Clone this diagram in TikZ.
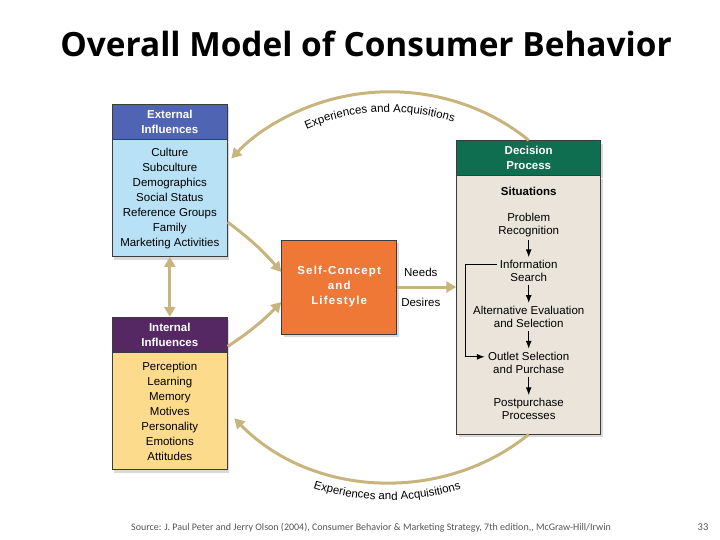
\documentclass[tikz,border=0pt]{standalone}
\usepackage{fontspec}
\setmainfont{Liberation Sans}
\newfontfamily\titlefont{Open Sans}
\newfontfamily\notefont{Carlito}
\newfontfamily\spacedfont[LetterSpace=10]{Liberation Sans}
\usetikzlibrary{arrows.meta, decorations.text, shadows}
\definecolor{extblue}{RGB}{80,100,180}
\definecolor{extlight}{RGB}{185,225,245}
\definecolor{intpurple}{RGB}{85,40,100}
\definecolor{intlight}{RGB}{252,220,140}
\definecolor{selforange}{RGB}{240,120,55}
\definecolor{decgreen}{RGB}{15,110,80}
\definecolor{decbeige}{RGB}{234,228,218}
\definecolor{flowtan}{RGB}{200,180,125}
\definecolor{edgegray}{RGB}{60,60,60}
\definecolor{notegray}{RGB}{85,85,85}
\newcommand{\arcfont}{\fontsize{11.5}{13}\selectfont}

\begin{document}
\begin{tikzpicture}[x=1pt, y=-1pt,
    box/.style={draw=edgegray, line width=0.8pt, inner sep=0pt, align=center, font=\fontsize{11.5}{15}\selectfont,
      drop shadow={shadow xshift=2pt, shadow yshift=-3pt, opacity=0.3}},
    head/.style={box, text=white, font=\fontsize{11.5}{15}\selectfont\bfseries},
    flow/.style={draw=flowtan, line width=3pt, -{Triangle[length=10pt, width=11pt]}},
    stepnode/.style={inner sep=3pt, align=center, font=\fontsize{11.5}{13}\selectfont},
    steparrow/.style={draw=black, line width=1.3pt, -{Latex[length=8pt, width=6pt]}},
    lab/.style={inner sep=0pt, font=\fontsize{11.5}{13}\selectfont},
    arclabel/.style={decorate, decoration={text along path, text={|\arcfont|Experiences and Acquisitions}, text align=center}}]
    \useasboundingbox (0,0) rectangle (720,540);

    \node[anchor=base, font=\titlefont\fontsize{33.4}{38}\selectfont\bfseries] (title) at (366,57) {Overall Model of Consumer Behavior};

    \node[head, fill=extblue, minimum width=115pt, minimum height=35pt] (exthead) at (169.8,121.5) {External\\Influences};
    \node[box, fill=extlight, minimum width=115pt, minimum height=116.7pt, anchor=north] (extbody) at (exthead.south)
        {Culture\\Subculture\\Demographics\\Social Status\\Reference Groups\\Family\\Marketing Activities};
    \node[head, fill=intpurple, minimum width=115pt, minimum height=34.4pt] (inthead) at (169.8,334.5) {Internal\\Influences};
    \node[box, fill=intlight, minimum width=115pt, minimum height=117.3pt, anchor=north] (intbody) at (inthead.south)
        {Perception\\Learning\\Memory\\Motives\\Personality\\Emotions\\Attitudes};

    \node[box, fill=selforange, text=white, minimum width=115pt, minimum height=94pt,
        font=\spacedfont\fontsize{11.5}{15}\selectfont\bfseries] (self) at (339.2,287) {Self-Concept\\and\\Lifestyle};

    \node[head, fill=decgreen, minimum width=144pt, minimum height=34.3pt] (dechead) at (528.7,157.8) {Decision\\Process};
    \node[box, fill=decbeige, minimum width=144pt, minimum height=258.3pt, anchor=north] (decbody) at (dechead.south) {};

    \node[stepnode, font=\fontsize{11.5}{13}\selectfont\bfseries] (situ) at (528.7,191.7) {Situations};
    \node[stepnode] (prob) at (528.7,224.8) {Problem\\Recognition};
    \node[stepnode] (info) at (528.7,271.3) {Information\\Search};
    \node[stepnode] (alt) at (528.7,317) {Alternative Evaluation\\and Selection};
    \node[stepnode] (outlet) at (528.7,362.8) {Outlet Selection\\and Purchase};
    \node[stepnode] (post) at (528.7,409.2) {Postpurchase\\Processes};

    \foreach \a/\b in {prob/info, info/alt, alt/outlet, outlet/post}
        \draw[steparrow] (\a) -- (\b);
    \draw[steparrow] ([yshift=6.5pt]info.west) -- ++(-31,0) |- ([yshift=6pt]outlet.west);

    % flows between the boxes
    \draw[flow] (self.east) -- node[lab, pos=0.4, yshift=15pt] {Needs} node[lab, pos=0.4, yshift=-15pt] {Desires} (self.east -| decbody.west);
    \draw[flow] ([yshift=-24pt]extbody.east) to[bend left=6] ([yshift=15pt]self.west);
    \draw[flow] ([yshift=-12pt]inthead.east) to[bend right=6] ([yshift=-15pt]self.west);
    \draw[flow, {Triangle[length=10pt, width=11pt]}-{Triangle[length=10pt, width=11pt]}] (extbody.south) -- (inthead.north);

    % big loop back to the influences
    \coordinate (hub) at (389,287);
    \draw[flow] (dechead.north) arc[start angle=-48.6, end angle=-139, x radius=210, y radius=194];
    \path[arclabel] ([shift={(-138:191 and 175)}]hub) arc[start angle=-138, end angle=-48, x radius=191, y radius=175];
    \draw[flow] (decbody.south) arc[start angle=48.8, end angle=138, x radius=210, y radius=194];
    \path[arclabel] ([shift={(138.5:229 and 213)}]hub) arc[start angle=138.5, end angle=42.5, x radius=229, y radius=213];

    \node[font=\notefont\fontsize{10}{12}\selectfont, text=notegray] (source) at (371,528)
        {Source: J. Paul Peter and Jerry Olson (2004), Consumer Behavior \& Marketing Strategy, 7th edition,, McGraw-Hill/Irwin};
    \node[font=\notefont\fontsize{10.5}{12}\selectfont, text=notegray] (page) at (703,527) {33};
\end{tikzpicture}
\end{document}
